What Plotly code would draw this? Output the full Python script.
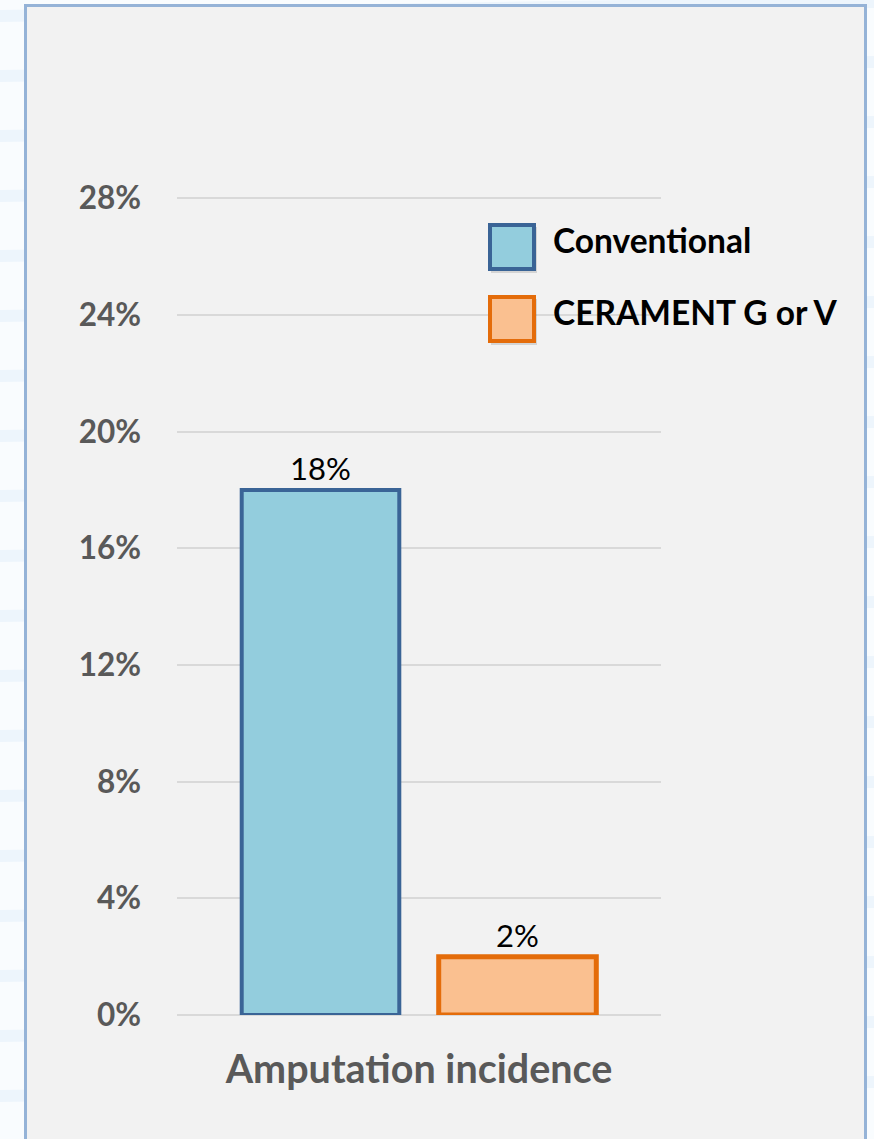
import plotly.graph_objects as go

# ---- data ----
category = ["Amputation incidence"]
series_names = ["Conventional", "CERAMENT G or V"]
conventional = [18]
cerament = [2]
tick_vals = [0, 4, 8, 12, 16, 20, 24, 28]
tick_text = ["0%", "4%", "8%", "12%", "16%", "20%", "24%", "28%"]

W, H = 874, 1139
FONT = "Lato, 'Open Sans', sans-serif"

fig = go.Figure()
fig.add_trace(go.Bar(
    name=series_names[0], x=category, y=conventional,
    marker=dict(color="#93cddd", line=dict(color="#3a6496", width=4)),
    text=[f"{v}%" for v in conventional], textposition="outside",
    textfont=dict(size=31, color="#000000", family=FONT),
    cliponaxis=False, showlegend=False,
))
fig.add_trace(go.Bar(
    name=series_names[1], x=category, y=cerament,
    marker=dict(color="#fac090", line=dict(color="#e46c0a", width=5)),
    text=[f"{v}%" for v in cerament], textposition="outside",
    textfont=dict(size=31, color="#000000", family=FONT),
    cliponaxis=False, showlegend=False,
))

def px_x(x):
    return (x - 177) / 484
def px_y(y):
    return (1015 - y) / 819

shapes = []
# faint background stripes outside the panel
for i in range(10, H, 60):
    shapes.append(dict(type="path", xref="paper", yref="paper",
                       path=(f"M {px_x(0)},{px_y(i)} L {px_x(874)},{px_y(i - 14)} "
                             f"L {px_x(874)},{px_y(i - 2)} L {px_x(0)},{px_y(i + 12)} Z"),
                       fillcolor="#edf5fc", line=dict(width=0), layer="below"))
# panel
shapes.append(dict(type="rect", xref="paper", yref="paper",
                   x0=px_x(25.5), x1=px_x(865.5), y0=px_y(1150), y1=px_y(5.5),
                   fillcolor="#f2f2f2", line=dict(color="#95b3d7", width=3),
                   layer="below"))

# legend boxes (shadow + box)
leg = [("#93cddd", "#3a6496", 224, series_names[0]),
       ("#fac090", "#e46c0a", 296, series_names[1])]
annotations = []
for fill, line, ytop, label in leg:
    shapes.append(dict(type="rect", xref="paper", yref="paper",
                       x0=px_x(491), x1=px_x(537), y0=px_y(ytop + 49), y1=px_y(ytop + 3),
                       fillcolor="rgba(0,0,0,0.12)", line=dict(width=0)))
    shapes.append(dict(type="rect", xref="paper", yref="paper",
                       x0=px_x(490), x1=px_x(534), y0=px_y(ytop + 45), y1=px_y(ytop + 1),
                       fillcolor=fill, line=dict(color=line, width=4)))
    annotations.append(dict(xref="paper", yref="paper", x=px_x(551), y=px_y(ytop + 16),
                            text=f"<b>{label}</b>", showarrow=False,
                            xanchor="left", yanchor="middle",
                            font=dict(size=33.5, color="#000000", family=FONT)))

fig.update_layout(
    width=W, height=H,
    margin=dict(l=177, r=213, t=196, b=124),
    paper_bgcolor="#f9fcfe", plot_bgcolor="rgba(0,0,0,0)",
    barmode="group", bargap=0.186, bargroupgap=0.2,
    shapes=shapes, annotations=annotations,
    xaxis=dict(showgrid=False, showline=False, ticks="",
               tickfont=dict(size=39.5, color="#595959", family=FONT),
               tickprefix="<b>", ticksuffix="</b>", ticklabelstandoff=27),
    yaxis=dict(range=[0, 28.08], tickvals=tick_vals, ticktext=[f"<b>{t}</b>" for t in tick_text],
               tickfont=dict(size=31.5, color="#595959", family=FONT),
               showgrid=True, gridcolor="#d9d9d9", gridwidth=1.5,
               zeroline=True, zerolinecolor="#d9d9d9", zerolinewidth=1.5,
               showline=False, ticks="", ticklabelstandoff=35),
    font=dict(family=FONT),
)

fig.write_html("out.html", config={"displayModeBar": False},
               post_script="document.body.style.margin='0';document.body.style.background='#f9fcfe';")
